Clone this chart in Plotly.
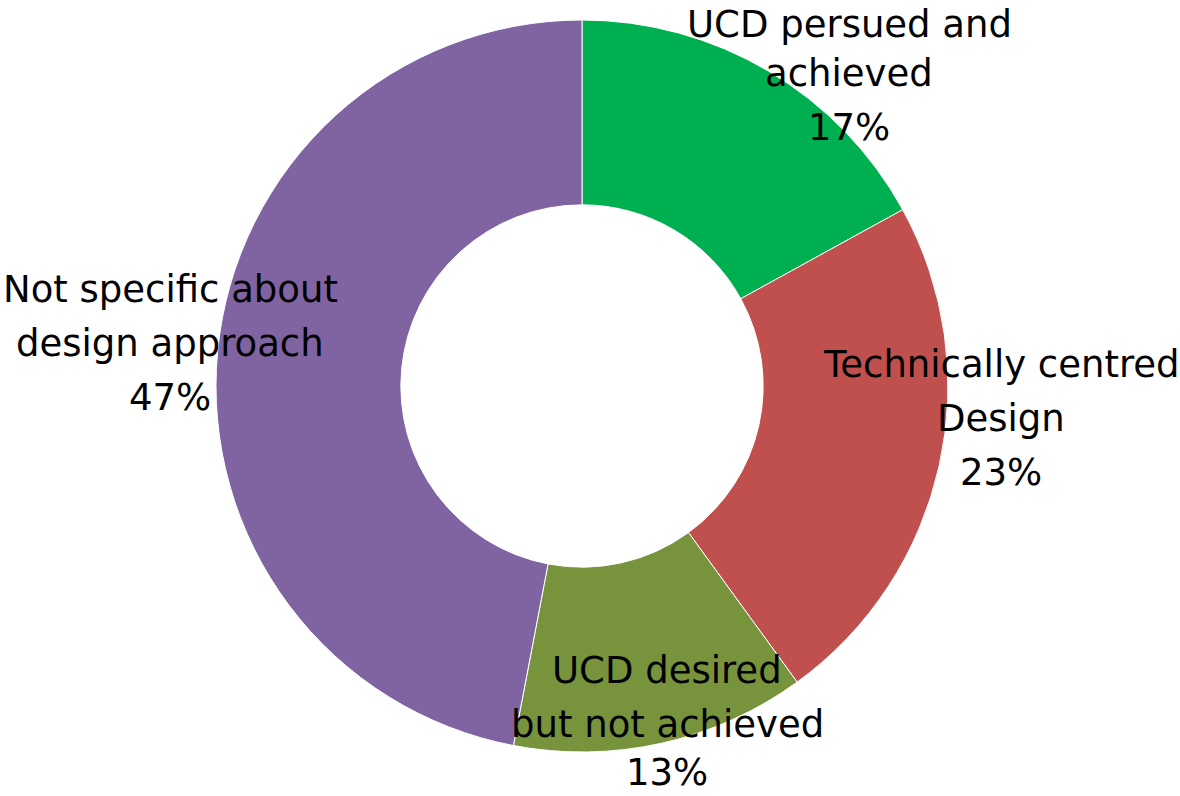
import plotly.graph_objects as go

categories = ["UCD persued and achieved", "Technically centred Design",
              "UCD desired but not achieved", "Not specific about design approach"]
label_lines = [["UCD persued and", "achieved"],
               ["Technically centred", "Design"],
               ["UCD desired", "but not achieved"],
               ["Not specific about", "design approach"]]
values = [17, 23, 13, 47]
colors = ["#00B050", "#C0504D", "#77933C", "#8064A2"]

W, H = 1180, 796
cx, cy, R = 582, 386, 366

fig = go.Figure(go.Pie(
    labels=categories, values=values, hole=0.495, sort=False,
    direction="clockwise", rotation=0,
    marker=dict(colors=colors, line=dict(color="white", width=1)),
    textinfo="none", hoverinfo="label+percent", showlegend=False,
    domain=dict(x=[(cx - R) / W, (cx + R) / W],
                y=[(H - cy - R) / H, (H - cy + R) / H]),
))

# label anchor: centre x and first-line baseline (pixels)
label_pos = [(849, 32), (1001, 377), (667, 683), (170, 302)]
LINE = 54
FS = 37
HALF = 24  # half of a single-line text box, keeps the text inside the page
total = sum(values)
for lines, v, (px, by) in zip(label_lines, values, label_pos):
    all_lines = lines + [f"{round(100 * v / total)}%"]
    for i, ln in enumerate(all_lines):
        mid = by + i * LINE - 13
        mid = min(max(mid, HALF), H - HALF)
        fig.add_annotation(
            x=px / W, y=1 - mid / H, xref="paper", yref="paper",
            text=ln, showarrow=False, xanchor="center", yanchor="middle",
            font=dict(family="DejaVu Sans", size=FS, color="black"),
            align="center",
        )

fig.update_layout(width=W, height=H, margin=dict(l=0, r=0, t=0, b=0),
                  paper_bgcolor="white", plot_bgcolor="white")
fig.write_html("out.html", config={"displayModeBar": False},
               post_script="document.body.style.margin='0';document.body.style.overflow='hidden';")
